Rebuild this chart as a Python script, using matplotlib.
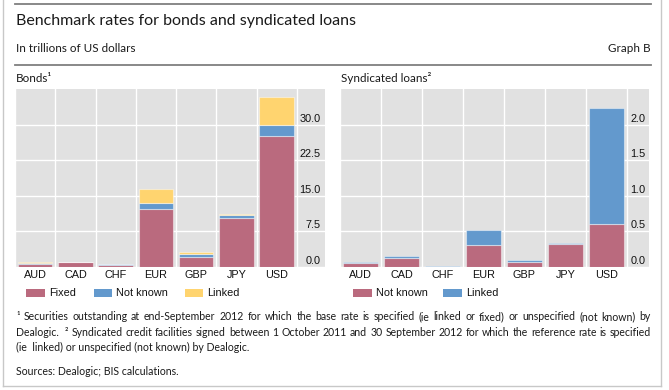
import matplotlib
matplotlib.use("Agg")
import matplotlib.pyplot as plt
import matplotlib.transforms as mtransforms
from matplotlib.patches import Rectangle
import numpy as np

# Figure size in pixels
W, H = 669, 390

# Style parameters
COLOR_RED = "#BA6A7E"
COLOR_BLUE = "#6399CD"
COLOR_YELLOW = "#FFD46F"
COLOR_BG = "#E1E1E1"
COLOR_RULE = "#7F7F7F"
COLOR_FRAME = "#C8C8C8"
TEXT_FONT = "Lato"
TICK_FONT = "Liberation Sans"

# Data
currencies = ["AUD", "CAD", "CHF", "EUR", "GBP", "JPY", "USD"]
bond_fixed = [0.7, 1.0, 0.5, 12.3, 2.1, 10.4, 27.5]
bond_not_known = [0.2, 0.05, 0.05, 1.2, 0.6, 0.6, 2.4]
bond_linked = [0.1, 0.05, 0.0, 3.0, 0.5, 0.1, 5.9]
loan_not_known = [0.055, 0.12, 0.003, 0.31, 0.065, 0.33, 0.61]
loan_linked = [0.02, 0.03, 0.01, 0.21, 0.03, 0.004, 1.62]

bond_series = ["Fixed", "Not known", "Linked"]
loan_series = ["Not known", "Linked"]
bond_ticks = [0.0, 7.5, 15.0, 22.5, 30.0]
loan_ticks = [0.0, 0.5, 1.0, 1.5, 2.0]


def px_axes(fig, x0, y0, x1, y1):
    return fig.add_axes([x0 / W, 1 - y1 / H, (x1 - x0) / W, (y1 - y0) / H])


def stacked_panel(fig, ax, series, colors, ticks, ymax, xmax, label_x):
    x = np.arange(len(currencies))
    bottom = np.zeros(len(currencies))
    for values, color in zip(series, colors):
        ax.bar(x, values, bottom=bottom, width=0.86, color=color,
               edgecolor=(1, 1, 1, 0.45), linewidth=0.8, zorder=2)
        bottom += np.array(values)

    ax.set_facecolor(COLOR_BG)
    ax.set_xlim(-0.5, xmax)
    ax.set_ylim(0, ymax)
    for s in ax.spines.values():
        s.set_visible(False)

    ax.set_xticks(x)
    ax.set_xticklabels(currencies, fontsize=7.8, family=TICK_FONT, color="#111111")
    ax.set_xticks(np.arange(-0.5, len(currencies), 1), minor=True)
    ax.set_yticks(ticks)
    ax.set_yticklabels([])
    ax.tick_params(which="both", length=0, pad=2)
    ax.grid(which="minor", axis="x", color="white", lw=1.0, zorder=1)
    ax.grid(which="major", axis="y", color="white", lw=1.0, zorder=1)
    ax.set_axisbelow(True)

    # Tick labels drawn inside the plot, just above the gridlines
    trans = mtransforms.offset_copy(ax.transData, fig=fig, x=0, y=6, units="dots")
    for v in ticks:
        ax.text(label_x, v, f"{v:.1f}", ha="right", va="center",
                fontsize=7.8, family=TICK_FONT, color="#111111",
                transform=trans, zorder=3)


def justified(ax, renderer, text, x0, x1, y, **kw):
    words = text.split(" ")
    widths = []
    for w in words:
        t = ax.text(0, 0, w, **kw)
        bb = t.get_window_extent(renderer)
        widths.append(bb.width)
        t.remove()
    gap = (x1 - x0 - sum(widths)) / (len(words) - 1)
    x = x0
    for w, wd in zip(words, widths):
        ax.text(x, y, w, ha="left", va="baseline", **kw)
        x += wd + gap


def main():
    fig = plt.figure(figsize=(W / 100, H / 100), dpi=100)
    fig.patch.set_facecolor("white")

    # Overlay in pixel coordinates for frame, rules and texts
    ov = fig.add_axes([0, 0, 1, 1])
    ov.set_xlim(0, W)
    ov.set_ylim(H, 0)
    ov.axis("off")

    # Frame
    ov.plot([3, 3], [0, 386], color=COLOR_FRAME, lw=1)
    ov.plot([661, 661], [0, 386], color=COLOR_FRAME, lw=1)
    ov.plot([3, 661], [386, 386], color=COLOR_FRAME, lw=1)

    # Rules
    ov.plot([15, 651], [4, 4], color=COLOR_RULE, lw=1.3)
    ov.plot([15, 651], [65, 65], color=COLOR_RULE, lw=1.3)

    txt = dict(family=TEXT_FONT, color="#1A1A1A")
    ov.text(16, 25, "Benchmark rates for bonds and syndicated loans",
            fontsize=11.5, va="baseline", ha="left", **txt)
    ov.text(16, 52, "In trillions of US dollars", fontsize=8.4,
            va="baseline", ha="left", **txt)
    ov.text(651, 52, "Graph B", fontsize=8.4, va="baseline", ha="right", **txt)
    ov.text(16, 82, "Bonds\u00b9", fontsize=8.4, va="baseline", ha="left", **txt)
    ov.text(341, 82, "Syndicated loans\u00b2", fontsize=8.4, va="baseline",
            ha="left", **txt)

    # Panels
    ax1 = px_axes(fig, 15, 89, 325, 267)
    stacked_panel(fig, ax1, [bond_fixed, bond_not_known, bond_linked],
                  [COLOR_RED, COLOR_BLUE, COLOR_YELLOW], bond_ticks,
                  37.5, 7.2, 7.09)
    ax2 = px_axes(fig, 340, 89, 649, 267)
    stacked_panel(fig, ax2, [loan_not_known, loan_linked],
                  [COLOR_RED, COLOR_BLUE], loan_ticks, 2.5, 7.04, 6.96)

    # Legends
    leg = dict(fontsize=7.8, family=TICK_FONT, color="#111111", va="center", ha="left")
    for x0, name, color in zip([26, 93.5, 184.5], bond_series,
                               [COLOR_RED, COLOR_BLUE, COLOR_YELLOW]):
        ov.add_patch(Rectangle((x0, 289), 18.5, 8, color=color, lw=0))
        ov.text(x0 + 23, 293, name, **leg)
    for x0, name, color in zip([353, 443], loan_series, [COLOR_RED, COLOR_BLUE]):
        ov.add_patch(Rectangle((x0, 289), 18.5, 8, color=color, lw=0))
        ov.text(x0 + 23, 293, name, **leg)

    # Footnotes
    renderer = fig.canvas.get_renderer()
    note = dict(fontsize=7.6, family=TEXT_FONT, color="#1A1A1A")
    justified(ov, renderer,
              "\u00b9 Securities outstanding at end-September 2012 for which the base "
              "rate is specified (ie linked or fixed) or unspecified (not known) by",
              16, 651, 320, **note)
    justified(ov, renderer,
              "Dealogic.  \u00b2 Syndicated credit facilities signed between 1 October "
              "2011 and 30 September 2012 for which the reference rate is specified",
              16, 651, 336, **note)
    ov.text(16, 351, "(ie  linked) or unspecified (not known) by Dealogic.",
            ha="left", va="baseline", **note)
    ov.text(16, 375, "Sources: Dealogic; BIS calculations.", ha="left",
            va="baseline", **note)

    fig.savefig("out.png", dpi=100)
    plt.close(fig)


if __name__ == "__main__":
    main()
